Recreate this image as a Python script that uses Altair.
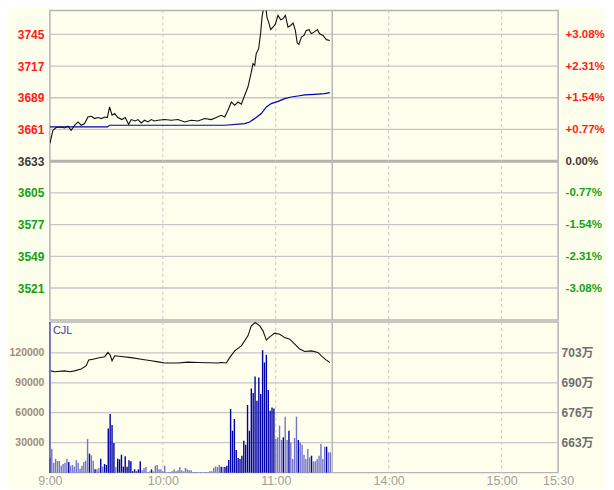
import altair as alt
import pandas as pd

PREV_CLOSE = 3633

# trading-minute axis: 0 = 9:00 ... 150 = 11:30/13:30 ... 270 = 15:30
time_ticks = [0, 60, 120, 180, 240, 270]
time_labels = ["9:00", "10:00", "11:00", "14:00", "15:00", "15:30"]
dash_ticks = [60, 120, 180, 240]
break_ticks = [150]

pct_ticks = [3.08, 2.31, 1.54, 0.77, 0.0, -0.77, -1.54, -2.31, -3.08]
vol_ticks = [30000, 60000, 90000, 120000]
oi_ticks = [663.33, 676.67, 690.0, 703.33]

price_t = [0, 1.6, 3.3, 6.0, 7.8, 9.6, 11.3, 13.1, 14.9, 16.6, 18.4, 20.2, 22.0, 23.8, 25.5, 27.3,
           29.1, 30.5, 31.7, 33.0, 34.4, 36.1, 38.2, 40.0, 41.8, 43.2, 45.3, 46.8, 48.5, 50.3, 52.1,
           53.8, 55.6, 57.4, 61.0, 64.5, 68.0, 71.6, 75.1, 78.7, 82.2, 85.7, 88.4, 91.0, 92.9, 94.6,
           96.4, 98.2, 99.9, 101.7, 103.5, 105.2, 107.0, 107.9, 108.8, 109.6, 110.9, 112.0, 112.7,
           113.6, 114.4, 115.3, 116.2, 117.3, 118.5, 119.7, 121.2, 122.6, 123.8, 125.1, 126.5, 127.9,
           129.2, 130.4, 131.4, 132.3, 133.6, 135.0, 136.2, 137.7, 138.9, 140.3, 142.1, 143.3, 145.1,
           146.9, 148.7]
price_v = [3648.6, 3660.3, 3662.7, 3663.2, 3662.3, 3663.8, 3660.3, 3664.7, 3667.6, 3664.7, 3666.2,
           3672.0, 3672.6, 3670.6, 3671.5, 3670.6, 3672.0, 3671.5, 3680.8, 3673.5, 3675.0, 3671.5,
           3669.7, 3671.5, 3665.6, 3669.7, 3668.5, 3669.7, 3666.7, 3669.1, 3667.6, 3669.7, 3668.5,
           3669.1, 3669.7, 3669.1, 3669.7, 3667.6, 3669.1, 3668.5, 3670.6, 3669.7, 3671.5, 3673.5,
           3672.0, 3677.9, 3685.2, 3682.3, 3685.2, 3683.2, 3691.1, 3698.4, 3711.6, 3719.0, 3717.5,
           3727.8, 3732.2, 3746.8, 3760.1, 3768.9, 3774.8, 3760.1, 3755.7, 3749.0, 3751.3, 3753.6,
           3761.6, 3757.8, 3758.6, 3761.6, 3751.3, 3752.7, 3754.8, 3748.3, 3737.2, 3736.0, 3742.4,
           3743.9, 3748.3, 3749.0, 3745.4, 3746.8, 3749.0, 3745.4, 3743.9, 3740.2, 3739.5]

avg_t = [0, 30.5, 31.7, 92.9, 103.5, 106.1, 109.6, 112.3, 115.0, 117.6, 121.2, 124.7, 128.2,
         131.8, 135.4, 140.7, 146.0, 148.7]
avg_v = [3663.2, 3663.2, 3664.7, 3664.7, 3666.2, 3667.6, 3671.5, 3675.0, 3680.8, 3683.8, 3685.8,
         3688.2, 3689.6, 3690.5, 3691.4, 3692.0, 3692.6, 3693.5]

vol = [15000, 23700, 9700, 13700, 11700, 11700, 7000, 8700, 10000, 14000,
       10700, 7000, 7700, 6000, 12700, 10000, 4000, 7000, 10700, 12000,
       33700, 19000, 17300, 12000, 3300, 3300, 4700, 14000, 6000, 8700,
       7700, 44300, 58700, 47700, 29700, 5700, 14000, 13300, 18000, 6000,
       16300, 6000, 12300, 11300, 1300, 3300, 1300, 3300, 11300,
       2300, 4700, 5700, 700, 1300, 3300, 1300, 7000, 7700, 3300,
       3300, 1300, 7000, 300, 700, 700, 1300, 3300, 1300, 2300,
       5300, 2300, 1300, 4700, 3300, 2300, 2300, 700, 700, 700,
       300, 700, 300, 300, 700, 300, 1300, 1300, 4700, 6000,
       5700, 7700, 6000, 5700, 5700, 7000, 12700, 63700, 42000, 53700,
       22700, 14700, 13700, 17000, 32000, 28000, 67700, 42000, 84300, 79700,
       96300, 72000, 95300, 78700, 122700, 110300, 118000, 82700, 62000, 65300,
       64300, 33700, 35300, 47000, 32700, 35300, 56000, 32700, 42000, 30300,
       13700, 34700, 56000, 32700, 30300, 28000, 18000, 13700, 23700, 15300,
       17000, 11300, 11300, 13700, 17000, 28700, 13700, 26000, 26000, 20300, 20300]
vol_dir = ("dllllllllldlllllllll" "ldlldlldld" "dddddlddddddddddddd" "llllldll"
           "llllllllll" "llllllllll" "llllllllll" "llll" "dldddddd"
           "dddddddddd" "dddddddddd" "d"
           "lllld" "lldll" "lldll" "lllld" "lllll" "lldll")

oi_t = [0.4, 2.5, 7.8, 10.5, 13.1, 16.6, 19.3, 20.6, 22.9, 25.5, 29.1, 30.8, 32.0, 33.0, 34.4,
        37.9, 43.2, 48.5, 53.8, 57.4, 61.0, 68.0, 73.3, 78.7, 89.3, 91.0, 93.7, 95.5, 98.2, 101.7,
        105.2, 107.0, 109.1, 111.5, 113.2, 115.0, 116.8, 119.4, 122.1, 124.7, 127.4, 130.1, 132.7,
        135.4, 138.9, 142.4, 144.2, 146.9, 148.7]
oi_v = [695.3, 694.9, 695.3, 694.9, 695.3, 696.1, 697.6, 700.1, 700.5, 701.0, 701.6, 703.5, 702.3,
        699.8, 702.0, 701.7, 701.2, 700.5, 699.8, 699.3, 698.8, 698.8, 699.2, 699.0, 698.8, 699.0,
        698.8, 701.2, 704.2, 706.4, 710.9, 715.3, 716.8, 715.3, 713.1, 709.0, 710.4, 712.1, 711.6,
        710.1, 709.4, 707.2, 705.0, 703.9, 704.2, 703.5, 702.0, 700.1, 699.0]

# ---------------- data frames ----------------
price_df = pd.DataFrame({"t": price_t, "price": price_v})
avg_df = pd.DataFrame({"t": avg_t, "price": avg_v})
vol_df = pd.DataFrame(list(zip(range(len(vol)), vol, vol_dir)), columns=["t", "v", "dir"])
oi_df = pd.DataFrame({"t": oi_t, "oi": oi_v})
price_ticks = [round(PREV_CLOSE * (1 + p / 100), 3) for p in pct_ticks]
grid_df = pd.DataFrame({"price": [p for p, q in zip(price_ticks, pct_ticks) if q != 0]})
zero_df = pd.DataFrame({"price": [PREV_CLOSE]})
dash_df = pd.DataFrame({"t": dash_ticks})
break_df = pd.DataFrame({"t": break_ticks})
volgrid_df = pd.DataFrame({"v": vol_ticks})

# ---------------- scales / axes ----------------
W = 509
x_scale = alt.Scale(domain=[0, 270], nice=False, zero=False, padding=0)
py_scale = alt.Scale(domain=[3493.0, 3766.0], nice=False, zero=False)
vy_scale = alt.Scale(domain=[0, 151000], nice=False, zero=False)
oi_scale = alt.Scale(domain=[650, 717.1], nice=False, zero=False)

FONT = "Liberation Sans"
up_dn_color = {
    "condition": [
        {"test": f"datum.value > {PREV_CLOSE + 1}", "value": "#ff1a1a"},
        {"test": f"datum.value > {PREV_CLOSE - 1}", "value": "#3a3a3a"},
    ],
    "value": "#14a014",
}

left_price_axis = alt.Axis(
    orient="left", values=price_ticks, labelExpr="format(datum.value, '.0f')",
    labelColor=up_dn_color, labelFont=FONT, labelFontSize=12, labelFontWeight="bold",
    labelPadding=6, ticks=False, tickSize=0, domain=False, grid=False, labelOverlap=False,
    title=None,
)
pct_expr = (f"(datum.value > {PREV_CLOSE + 1} ? '+' : (datum.value < {PREV_CLOSE - 1} ? '-' : '')) + "
            f"format(abs(datum.value - {PREV_CLOSE}) / {PREV_CLOSE} * 100, '.2f') + '%'")
right_price_axis = alt.Axis(
    orient="right", values=price_ticks, labelExpr=pct_expr,
    labelColor=up_dn_color, labelFont=FONT, labelFontSize=11.5, labelFontWeight="bold",
    labelPadding=7, ticks=False, tickSize=0, domain=False, grid=False, labelOverlap=False,
    title=None,
)
left_vol_axis = alt.Axis(
    orient="left", values=vol_ticks, format="d", labelColor="#9e8c7c", labelFont=FONT,
    labelFontSize=10.5, labelFontWeight="bold", labelPadding=6, ticks=False, tickSize=0,
    domain=False, grid=False, labelOverlap=False, title=None,
)
right_oi_axis = alt.Axis(
    orient="right", values=oi_ticks, labelExpr="floor(datum.value + 0.001) + '万'",
    labelColor="#6e6e6e", labelFont="Liberation Sans, Noto Sans CJK SC", labelFontSize=12,
    labelFontWeight="bold", labelPadding=3, ticks=False, tickSize=0, domain=False, grid=False,
    labelOverlap=False, title=None,
)
time_expr = "".join(f"datum.value == {t} ? '{l}' : " for t, l in zip(time_ticks, time_labels)) + "''"
x_axis = alt.Axis(
    orient="bottom", values=time_ticks, labelExpr=time_expr, labelColor="#a0a0a0", labelFont=FONT,
    labelFontSize=12.5, labelPadding=2, labelFlush=False, labelOverlap=False, ticks=False,
    tickSize=0, domain=False, grid=False, title=None,
)

GRID = "#c6c6c6"

# ---------------- price panel ----------------
p_grid = alt.Chart(grid_df).mark_rule(color=GRID, strokeWidth=1.3).encode(
    y=alt.Y("price:Q", scale=py_scale, axis=left_price_axis))
p_zero = alt.Chart(zero_df).mark_rule(color="#b2b2b2", strokeWidth=3).encode(
    y=alt.Y("price:Q", scale=py_scale, axis=None))
p_dash = alt.Chart(dash_df).mark_rule(color=GRID, strokeWidth=1, strokeDash=[3, 3]).encode(
    x=alt.X("t:Q", scale=x_scale, axis=None))
p_break = alt.Chart(break_df).mark_rule(color="#b8b8b8", strokeWidth=1.5).encode(
    x=alt.X("t:Q", scale=x_scale, axis=None))
p_avg = alt.Chart(avg_df).mark_line(color="#0000b4", strokeWidth=1.2, clip=True).encode(
    x=alt.X("t:Q", scale=x_scale, axis=None),
    y=alt.Y("price:Q", scale=py_scale, axis=None))
p_line = alt.Chart(price_df).mark_line(color="#111111", strokeWidth=1.1, clip=True).encode(
    x=alt.X("t:Q", scale=x_scale, axis=None),
    y=alt.Y("price:Q", scale=py_scale, axis=right_price_axis))

price_panel = alt.layer(p_grid, p_zero, p_dash, p_break, p_avg, p_line).resolve_scale(
    y="independent").properties(width=W, height=310)

# ---------------- volume panel ----------------
X_vol = alt.X("t:Q", scale=x_scale, axis=x_axis)
v_grid = alt.Chart(volgrid_df).mark_rule(color=GRID, strokeWidth=1.3).encode(
    y=alt.Y("v:Q", scale=vy_scale, axis=left_vol_axis))
v_dash = alt.Chart(dash_df).mark_rule(color=GRID, strokeWidth=1, strokeDash=[3, 3]).encode(
    x=X_vol)
v_break = alt.Chart(break_df).mark_rule(color="#b8b8b8", strokeWidth=1.5).encode(
    x=X_vol)
v_bars = alt.Chart(vol_df).mark_bar(orient="vertical", width=1.4).encode(
    x=X_vol,
    y=alt.Y("v:Q", scale=vy_scale, axis=None, stack=False),
    color=alt.Color("dir:N", scale=alt.Scale(domain=["d", "l"], range=["#0000a8", "#7474cc"]),
                    legend=None))
v_oi = alt.Chart(oi_df).mark_line(color="#111111", strokeWidth=1.1, clip=True).encode(
    x=X_vol,
    y=alt.Y("oi:Q", scale=oi_scale, axis=right_oi_axis))
v_left = alt.Chart(pd.DataFrame({"t": [0]})).mark_rule(color="#5a5acc", strokeWidth=1.5).encode(
    x=X_vol)
v_label = alt.Chart(pd.DataFrame({"s": ["CJL"]})).mark_text(
    align="left", baseline="middle", font=FONT, fontSize=11, color="#4040a8").encode(
    x=alt.value(3), y=alt.value(9), text="s:N")

vol_panel = alt.layer(v_grid, v_dash, v_break, v_bars, v_oi, v_left, v_label).resolve_scale(
    y="independent").properties(width=W, height=151)

chart = alt.vconcat(price_panel, vol_panel, spacing=-2).properties(
    background="#FEFEEC",
    padding={"left": 0, "top": 0, "right": 0, "bottom": 0},
).configure_view(stroke="#b4b4b4", strokeWidth=1.5)

chart.save("out.html", embed_options={"renderer": "svg", "actions": False})
